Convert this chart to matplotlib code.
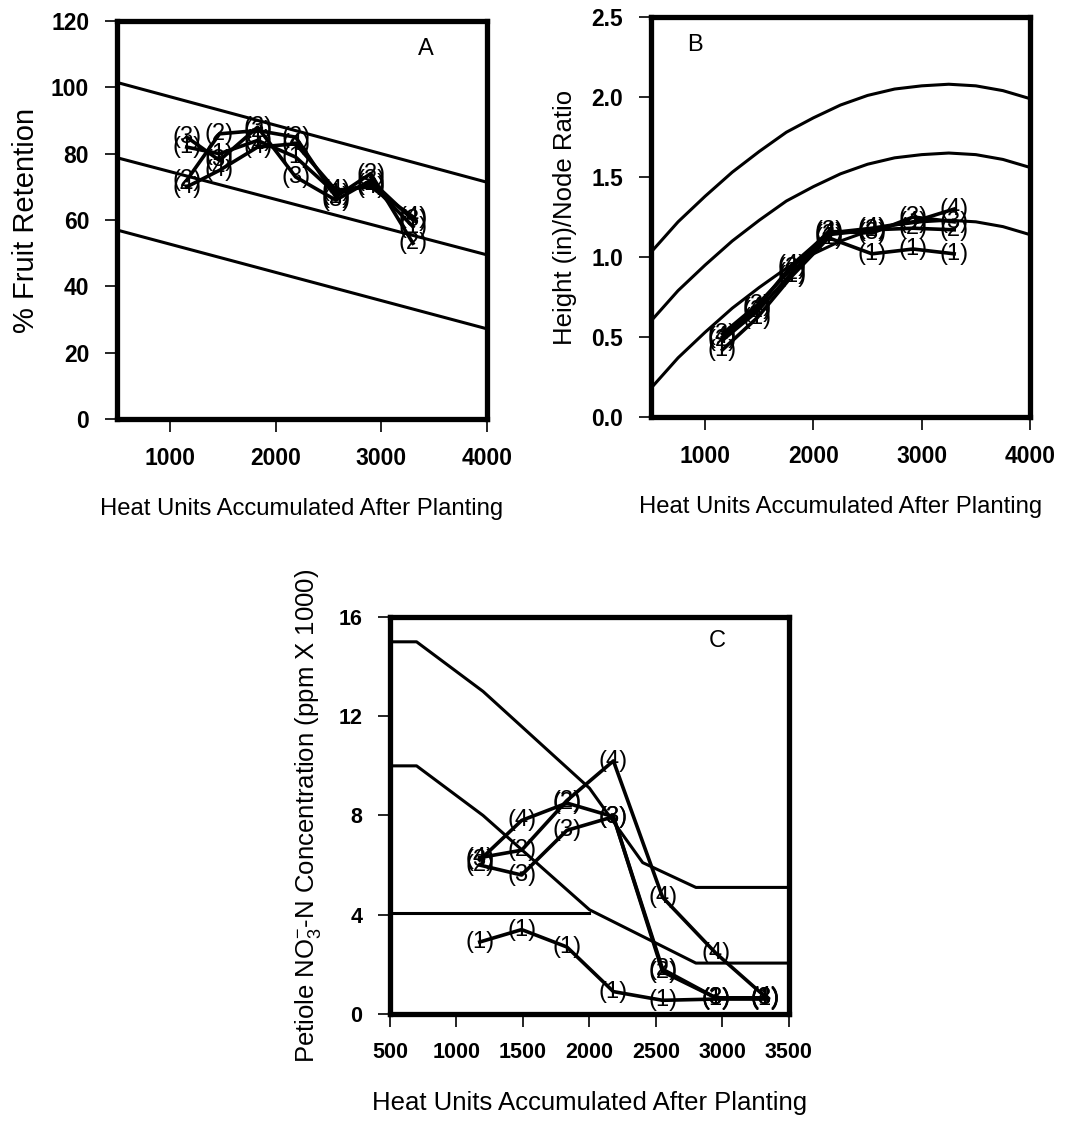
import numpy as np
import matplotlib
matplotlib.use("Agg")
import matplotlib.pyplot as plt

plt.rcParams['font.family'] = ['Liberation Sans', 'DejaVu Sans']
plt.rcParams['mathtext.fontset'] = 'custom'
plt.rcParams['mathtext.rm'] = 'Liberation Sans'
plt.rcParams['mathtext.it'] = 'Liberation Sans'

# ---- Panel A: % fruit retention ----
a_ref_x = [500, 4000]
a_upper = [101.5, 71.4]
a_middle = [78.8, 49.5]
a_lower = [57.0, 27.2]

a_x = [1160, 1470, 1830, 2190, 2570, 2900, 3300]
a_series = [
    [82, 80, 84, 79, 68, 71, 58],
    [72, 86, 87, 85, 67, 74, 53],
    [85, 78, 88, 73, 66, 72, 60],
    [70, 75, 82, 83, 69, 70, 61],
]
a_labels = [
    ['(1)', '(1)', '(1)', '(1)', '(1)', '(1)', '(1)'],
    ['(2)', '(2)', '(2)', '(2)', '(2)', '(2)', '(2)'],
    ['(3)', '(3)', '(3)', '(3)', '(3)', '(3)', '(3)'],
    ['(4)', '(4)', '(4)', '(4)', '(4)', '(4)', '(4)'],
]

# ---- Panel B: height/node ratio ----
b_ref_x = [500, 750, 1000, 1250, 1500, 1750, 2000, 2250, 2500, 2750, 3000, 3250, 3500, 3750, 4000]
b_upper = [1.03, 1.22, 1.38, 1.53, 1.66, 1.78, 1.87, 1.95, 2.01, 2.05, 2.07, 2.08, 2.07, 2.04, 1.99]
b_middle = [0.60, 0.79, 0.95, 1.10, 1.23, 1.35, 1.44, 1.52, 1.58, 1.62, 1.64, 1.65, 1.64, 1.61, 1.56]
b_lower = [0.18, 0.37, 0.53, 0.68, 0.81, 0.93, 1.02, 1.10, 1.16, 1.20, 1.22, 1.23, 1.22, 1.19, 1.14]

b_x = [1160, 1480, 1800, 2140, 2540, 2920, 3300]
b_series = [
    [0.42, 0.62, 0.88, 1.12, 1.02, 1.05, 1.02],
    [0.48, 0.66, 0.90, 1.14, 1.17, 1.18, 1.17],
    [0.52, 0.70, 0.93, 1.16, 1.15, 1.25, 1.22],
    [0.50, 0.68, 0.95, 1.15, 1.18, 1.22, 1.30],
]
b_labels = [
    ['(1)', '(1)', '(1)', '(1)', '(1)', '(1)', '(1)'],
    ['(2)', '(2)', '(2)', '(2)', '(2)', '(2)', '(2)'],
    ['(3)', '(3)', '(3)', '(3)', '(3)', '(3)', '(3)'],
    ['(4)', '(4)', '(4)', '(4)', '(4)', '(4)', '(4)'],
]

# ---- Panel C: petiole NO3-N ----
c_upper_x = [500, 700, 1200, 2000, 2400, 2800, 3500]
c_upper = [15.0, 15.0, 13.0, 9.1, 6.1, 5.1, 5.1]
c_middle_x = [500, 700, 1200, 2000, 2800, 3500]
c_middle = [10.0, 10.0, 8.0, 4.2, 2.05, 2.05]
c_lower_x = [500, 2000]
c_lower = [4.05, 4.05]

c_x = [1175, 1490, 1830, 2180, 2550, 2950, 3320]
c_series = [
    [2.9, 3.4, 2.7, 0.9, 0.55, 0.6, 0.6],
    [6.2, 7.8, 8.5, 7.95, 1.8, 0.65, 0.65],
    [6.0, 5.6, 7.4, 7.95, 1.7, 0.65, 0.65],
    [6.3, 6.6, 8.6, 10.2, 4.7, 2.45, 0.7],
]
c_labels = [
    ['(1)', '(1)', '(1)', '(1)', '(1)', '(1)', '(1)'],
    ['(3)', '(4)', '(2)', '(3)', '(2)', '(3)', '(3)'],
    ['(2)', '(3)', '(3)', '(3)', '(2)', '(3)', '(3)'],
    ['(4)', '(2)', '(2)', '(4)', '(4)', '(4)', '(4)'],
]

xlab = 'Heat Units Accumulated After Planting'


def style_axes(ax, tick_fs):
    for s in ax.spines.values():
        s.set_linewidth(3.8)
    ax.tick_params(direction='out', length=9, width=1.2, pad=11, labelsize=tick_fs)
    for t in ax.get_xticklabels() + ax.get_yticklabels():
        t.set_fontweight('bold')


def draw_series(ax, xs, series, labels):
    for ys, labs in zip(series, labels):
        ax.plot(xs, ys, color='black', lw=2.6, zorder=3)
        for x, y, t in zip(xs, ys, labs):
            ax.text(x, y, t, ha='center', va='center', fontsize=17, zorder=4)


fig = plt.figure(figsize=(10.89, 11.21), dpi=100)

# Panel A
axA = fig.add_axes([0.1074, 0.6262, 0.3398, 0.3550])
for ys in (a_upper, a_middle, a_lower):
    axA.plot(a_ref_x, ys, color='black', lw=2.2)
draw_series(axA, a_x, a_series, a_labels)
axA.set_xlim(500, 4000)
axA.set_ylim(0, 120)
axA.set_xticks([1000, 2000, 3000, 4000])
axA.set_yticks(range(0, 121, 20))
axA.set_xlabel(xlab, fontsize=17.2, labelpad=20)
axA.set_ylabel('% Fruit Retention', fontsize=21, labelpad=8)
axA.text(0.835, 0.93, 'A', transform=axA.transAxes, ha='center', va='center', fontsize=17)
style_axes(axA, 16.5)

# Panel B
axB = fig.add_axes([0.5978, 0.628, 0.348, 0.3568])
for ys in (b_upper, b_middle, b_lower):
    axB.plot(b_ref_x, ys, color='black', lw=2.2)
draw_series(axB, b_x, b_series, b_labels)
axB.set_xlim(500, 4000)
axB.set_ylim(0, 2.5)
axB.set_xticks([1000, 2000, 3000, 4000])
axB.set_yticks(np.arange(0, 2.51, 0.5))
axB.set_yticklabels(['0.0', '0.5', '1.0', '1.5', '2.0', '2.5'])
axB.set_xlabel(xlab, fontsize=17.2, labelpad=20)
axB.set_ylabel('Height (in)/Node Ratio', fontsize=18.5, labelpad=10)
axB.text(0.115, 0.93, 'B', transform=axB.transAxes, ha='center', va='center', fontsize=17)
style_axes(axB, 16.5)

# Panel C
axC = fig.add_axes([0.3581, 0.0955, 0.3664, 0.3541])
axC.plot(c_upper_x, c_upper, color='black', lw=2.2)
axC.plot(c_middle_x, c_middle, color='black', lw=2.2)
axC.plot(c_lower_x, c_lower, color='black', lw=2.2)
draw_series(axC, c_x, c_series, c_labels)
axC.set_xlim(500, 3500)
axC.set_ylim(0, 16)
axC.set_xticks(range(500, 3501, 500))
axC.set_yticks(range(0, 17, 4))
axC.set_xlabel(xlab, fontsize=18.5, labelpad=20)
axC.set_ylabel(r'Petiole NO$_3^{-}$-N Concentration (ppm X 1000)', fontsize=18.5, labelpad=11)
axC.text(0.82, 0.94, 'C', transform=axC.transAxes, ha='center', va='center', fontsize=17)
style_axes(axC, 15.5)

fig.savefig('out.png', dpi=100)
